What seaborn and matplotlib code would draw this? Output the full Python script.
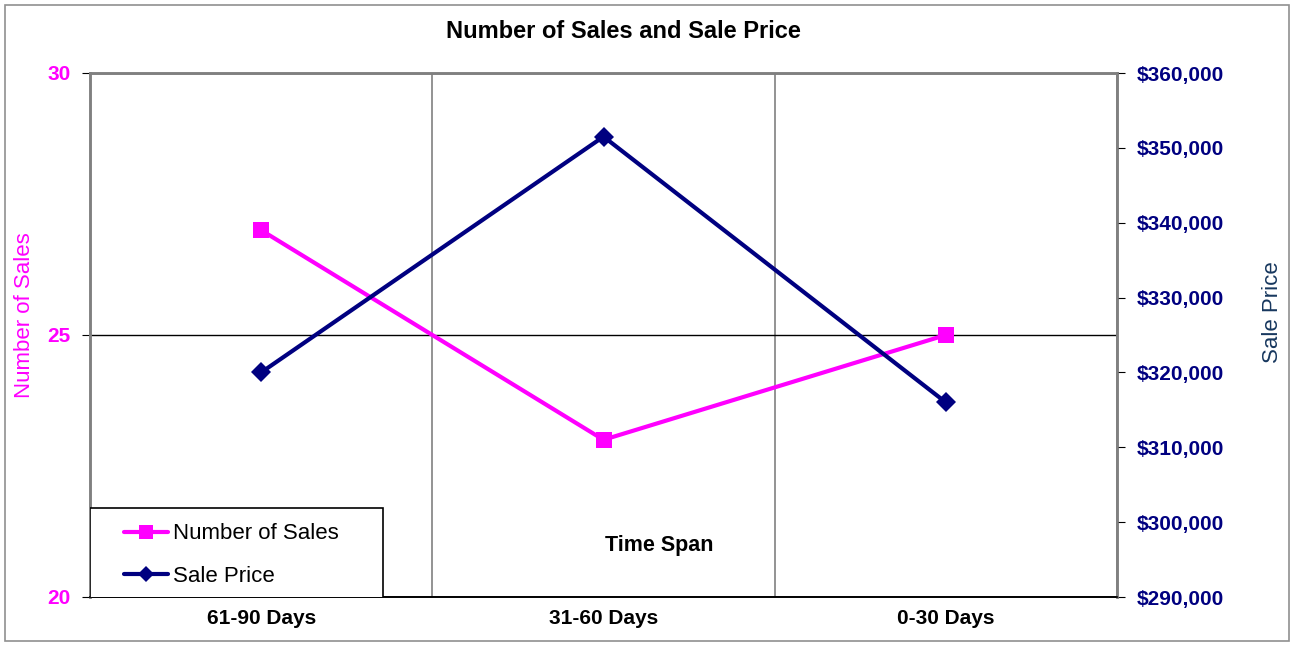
import numpy as np
import pandas as pd
import matplotlib
matplotlib.use("Agg")
import matplotlib.pyplot as plt
import seaborn as sns
from matplotlib.lines import Line2D
from matplotlib.patches import Rectangle
from matplotlib.ticker import FuncFormatter

# data
time_spans = ["61-90 Days", "31-60 Days", "0-30 Days"]
number_of_sales = [27, 23, 25]
sale_price = [320000, 351500, 316000]

df = pd.DataFrame({
    "pos": np.arange(len(time_spans)),
    "span": time_spans,
    "sales": number_of_sales,
    "price": sale_price,
})

sns.set_style("white")
plt.rcParams["font.family"] = ["Liberation Sans", "DejaVu Sans"]
plt.rcParams["text.color"] = "black"
plt.rcParams["xtick.labelcolor"] = "black"

MAGENTA = "#FF00FF"
NAVY = "#000080"

fig = plt.figure(figsize=(12.94, 6.46), dpi=100)
ax = fig.add_axes([90 / 1294, 49 / 646, 1027 / 1294, 524 / 646])

sns.lineplot(data=df, x="pos", y="sales", ax=ax, color=MAGENTA, lw=3,
             marker="s", markersize=11, markeredgewidth=0, legend=False)
ax.set_xlim(-0.5, 2.5)
ax.set_ylim(20, 30)
ax.set_yticks([20, 25, 30])
ax.set_xticks(df["pos"])
ax.set_xticklabels(time_spans, fontweight="bold", fontsize=15, color="black")
ax.set_xticks([-0.5, 0.5, 1.5, 2.5], minor=True)
ax.tick_params(axis="x", which="major", length=0, pad=9)
ax.tick_params(axis="x", which="minor", length=5, direction="out", color="#808080")
ax.tick_params(axis="y", length=6, direction="out", labelcolor=MAGENTA,
               labelsize=15, pad=8, color="black")
for t in ax.get_yticklabels():
    t.set_fontweight("bold")
ax.grid(axis="x", which="minor", color="#808080", lw=1.2)
ax.grid(axis="y", which="major", color="black", lw=1)
ax.set_xlabel("")
ax.set_ylabel("Number of Sales", color=MAGENTA, fontsize=16)
ax.yaxis.set_label_coords((25 - 90) / 1027, (597 - 315) / 524)
ax.yaxis.label.set_va("center")
ax.set_axisbelow(True)

ax2 = ax.twinx()
sns.lineplot(data=df, x="pos", y="price", ax=ax2, color=NAVY, lw=3,
             marker="D", markersize=10, markeredgewidth=0, legend=False)
ax2.set_ylim(290000, 360000)
ax2.set_yticks(np.arange(290000, 360001, 10000))
ax2.yaxis.set_major_formatter(FuncFormatter(lambda v, p: f"${v:,.0f}"))
ax2.tick_params(axis="y", length=6, direction="out", labelcolor=NAVY,
                labelsize=15, pad=8.5, color="black")
for t in ax2.get_yticklabels():
    t.set_fontweight("bold")
ax2.set_ylabel("Sale Price", color="#17375E", fontsize=16)
ax2.yaxis.set_label_coords((1272 - 90) / 1027, (597 - 312) / 524)
ax2.yaxis.label.set_va("center")
ax2.grid(False)

for a in (ax, ax2):
    for side in ("left", "top", "right"):
        a.spines[side].set_color("#808080")
        a.spines[side].set_linewidth(1.8)
    a.spines["bottom"].set_color("black")
    a.spines["bottom"].set_linewidth(1.2)

fig.text(623 / 1294, 1 - 31 / 646, "Number of Sales and Sale Price",
         ha="center", va="center", fontweight="bold", fontsize=17)

ax.text(0.554, 0.099, "Time Span", transform=ax.transAxes, ha="center", va="center",
        fontweight="bold", fontsize=15.5)

# legend box drawn separately so its padding can match the reference
box = Rectangle((0, -0.002), 293 / 1027, 90 / 524, transform=ax2.transAxes,
                facecolor="white", edgecolor="black", lw=1.2, zorder=9)
ax2.add_patch(box)

handles = [
    Line2D([], [], color=MAGENTA, lw=3, marker="s", markersize=10, markeredgewidth=0),
    Line2D([], [], color=NAVY, lw=3, marker="D", markersize=8, markeredgewidth=0),
]
leg = ax2.legend(handles, ["Number of Sales", "Sale Price"], loc="center left",
                 bbox_to_anchor=((124 - 90) / 1027, (597 - 555) / 524), frameon=False,
                 fontsize=16, borderpad=0, labelspacing=0.95,
                 handlelength=2.0, handletextpad=0.2, borderaxespad=0)
leg.set_zorder(10)
for t in leg.get_texts():
    t.set_color("black")

fig.patches.append(Rectangle((5 / 1294, 5 / 646), 1284 / 1294, 636 / 646,
                             transform=fig.transFigure, fill=False,
                             edgecolor="#909090", lw=1.2))

fig.savefig("out.png", dpi=100)
plt.close(fig)
